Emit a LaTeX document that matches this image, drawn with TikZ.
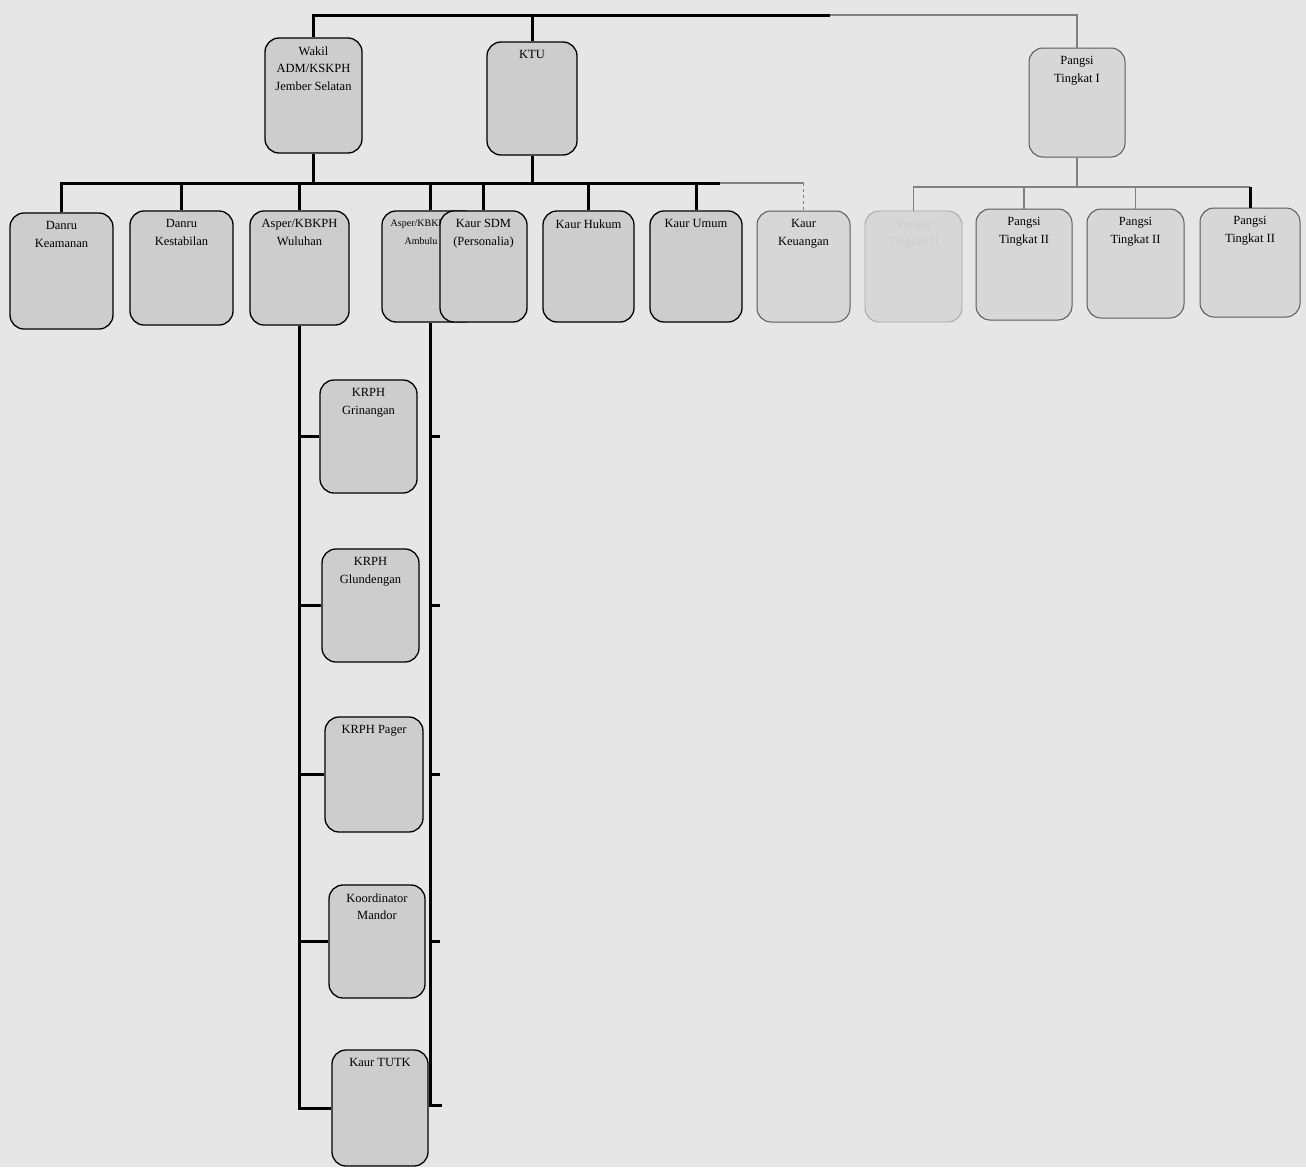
\documentclass[tikz,border=0pt]{standalone}
\usepackage{fontspec}
\setmainfont{Liberation Serif}
\definecolor{bggray}{HTML}{E6E6E6}
\definecolor{boxgray}{HTML}{CDCDCD}
\definecolor{boxlight}{HTML}{D7D7D7}
\newcommand\orgbox[7][]{%
  \node[box,#1,minimum width={(#4-#2)*1pt},minimum height={(#5-#3)*1pt}] (#6) at ({(#2+#4)/2},{(#3+#5)/2}) {};
  \node[lbl] (#6t) at ([yshift=-9pt]#6.north) {#7};}
\begin{document}
\begin{tikzpicture}[x=1pt,y=-1pt,
  box/.style={draw=black,line width=1.3pt,rounded corners=14pt,fill=boxgray,inner sep=0pt},
  faint/.style={draw=black!65,line width=1pt,fill=boxlight},
  fainter/.style={draw=black!35,line width=0.9pt,fill=boxlight},
  lbl/.style={font=\fontsize{12.5}{17.5}\selectfont,align=center,anchor=north,inner sep=0pt},
  conn/.style={line width=3pt},
  fconn/.style={line width=1.6pt,draw=black!50}]
\fill[bggray] (0,0) rectangle (1306,1167);
\useasboundingbox (0,0) rectangle (1306,1167);
% top level
\orgbox{265}{38}{362}{153}{wakil}{Wakil\\ADM/KSKPH\\Jember Selatan}
\orgbox{487}{42}{577}{155}{ktu}{KTU}
\orgbox[faint]{1029}{48}{1125}{157}{pt1}{Pangsi\\Tingkat I}
% second row
\orgbox{10}{213}{113}{329}{danru1}{Danru\\Keamanan}
\orgbox{130}{211}{233}{325}{danru2}{Danru\\Kestabilan}
\orgbox{250}{211}{349}{325}{asperw}{Asper/KBKPH\\Wuluhan}
\node[box,minimum width=96pt,minimum height=111pt] (aspera) at (430,266.5) {};
\node[lbl,font=\fontsize{10}{17.5}\selectfont] (asperat) at (421,220) {Asper/KBKPH\\Ambulu};
\orgbox{440}{211}{527}{322}{sdm}{Kaur SDM\\(Personalia)}
\orgbox{543}{211}{634}{322}{hukum}{Kaur Hukum}
\orgbox{650}{211}{742}{322}{umum}{Kaur Umum}
\orgbox[faint]{757}{211}{850}{322}{keu}{Kaur\\Keuangan}
\orgbox[fainter]{865}{211}{962}{322}{pa}{\textcolor{black!20}{Pangsi}\\\textcolor{black!20}{Tingkat II}}
\orgbox[faint]{976}{209}{1072}{320}{pb}{Pangsi\\Tingkat II}
\orgbox[faint]{1087}{209}{1184}{318}{pc}{Pangsi\\Tingkat II}
\orgbox[faint]{1200}{208}{1300}{317}{pd}{Pangsi\\Tingkat II}
% column
\orgbox{320}{380}{417}{493}{krph1}{KRPH\\Grinangan}
\orgbox{322}{549}{419}{662}{krph2}{KRPH\\Glundengan}
\orgbox{325}{717}{423}{832}{krph3}{KRPH Pager}
\orgbox{329}{885}{425}{998}{mandor}{Koordinator\\Mandor}
\orgbox{332}{1050}{428}{1166}{tutk}{Kaur TUTK}
% coordinates
\coordinate (t1) at (0,15);
\coordinate (tf) at (830,17);
\coordinate (m) at (0,183);
\coordinate (mf) at (720,183);
\coordinate (p) at (0,187);
% top bus
\draw[conn] (wakil.north) -- (wakil.north |- t1) -- (tf |- t1);
\draw[fconn] (tf |- t1) -| (pt1.north);
\draw[conn] (ktu.north) -- (ktu.north |- t1);
% middle bus
\draw[conn] (wakil.south) -- (wakil.south |- m);
\draw[conn] (ktu.south) -- (ktu.south |- m);
\draw[conn] (danru1.north) |- (mf);
\draw[fconn] (mf) -- (keu.north |- m);
\draw[fconn,dashed] (keu.north |- m) -- (keu.north);
\foreach \n in {danru2,asperw,aspera,sdm,hukum,umum}
  \draw[conn] (\n.north) -- (\n.north |- m);
% pangsi bus
\draw[fconn] (pt1.south) -- (pt1.south |- p);
\draw[fconn] (pa.north) |- (pd.north |- p);
\foreach \n in {pb,pc}
  \draw[fconn] (\n.north) -- (\n.north |- p);
\draw[conn] (pd.north) -- (pd.north |- p);
% left column connector
\draw[conn] (asperw.south) -- (asperw.south |- tutk.west) -- (tutk.west);
\foreach \n in {krph1,krph2,krph3,mandor}
  \draw[conn] (asperw.south |- \n.west) -- (\n.west);
% right column connector
\coordinate (rb) at (434,1105);
\draw[conn] (aspera.south) -- (aspera.south |- rb) -- ++(12,0);
\foreach \n in {krph1,krph2,krph3,mandor}
  \draw[conn] (aspera.south |- \n.east) -- ++(10,0);
\end{tikzpicture}
\end{document}
